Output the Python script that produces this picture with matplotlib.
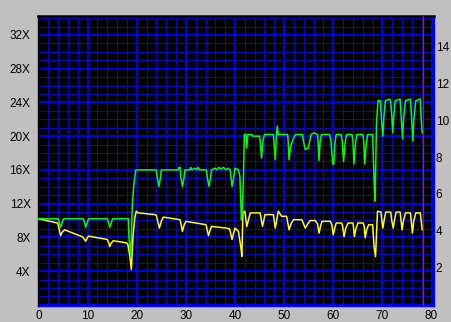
import matplotlib
matplotlib.use("Agg")
import matplotlib.pyplot as plt
from matplotlib.ticker import MultipleLocator, FuncFormatter

plt.rcParams['font.family'] = ['Liberation Sans', 'DejaVu Sans']

# speed trace (green)
green_x = [0, 4.0, 4.3, 4.5, 4.8, 5.1, 9.1, 9.4, 9.6, 9.9, 10.2, 14.0, 14.3, 14.5, 14.8, 15.1,
           18.3, 18.4, 18.8, 19.1, 19.4, 19.8, 24.0, 24.2, 24.5, 24.8, 25.0, 28.4, 28.6, 28.8,
           29.0, 29.3, 29.6, 29.8, 30.8, 31.0, 31.2, 31.9, 32.2, 32.5, 32.8, 34.2, 34.4, 34.7,
           35.0, 35.2, 36.0, 36.3, 36.7, 37.2, 37.6, 38.2, 38.6, 39.0, 39.2, 39.4, 39.7, 40.0,
           40.7, 41.0, 41.3, 41.5, 41.7, 41.9, 42.2, 42.4, 42.6, 43.4, 43.6, 45.0, 45.1, 45.4,
           45.7, 46.0, 47.8, 47.9, 48.2, 48.4, 48.6, 48.8, 50.7, 50.8, 51.0, 51.3, 51.8, 52.3,
           53.7, 54.0, 54.3, 54.9, 55.5, 56.1, 56.8, 56.9, 57.1, 57.3, 57.6, 59.2, 59.5, 59.9,
           60.1, 60.3, 60.6, 61.6, 61.8, 62.1, 62.4, 62.7, 63.8, 64.0, 64.2, 64.5, 64.8, 66.0,
           66.2, 66.4, 66.7, 67.0, 68.0, 68.1, 68.3, 68.5, 68.8, 69.1, 69.6, 69.8, 70.1, 70.3,
           70.6, 71.5, 71.7, 71.9, 72.1, 72.3, 72.6, 73.6, 73.8, 74.1, 74.3, 74.7, 75.7, 75.9,
           76.2, 76.4, 76.8, 77.7, 77.9, 78.1]
green_y = [10.2, 10.2, 9.7, 9.2, 9.7, 10.2, 10.2, 9.7, 9.2, 9.7, 10.2, 10.2, 9.7, 9.2, 9.7, 10.2,
           10.2, 8.1, 5.8, 11.9, 14.2, 16.0, 16.0, 15.0, 14.05, 15.0, 16.0, 16.0, 16.3, 16.3,
           15.0, 14.05, 15.0, 16.0, 16.0, 16.3, 16.0, 16.2, 16.0, 16.3, 16.0, 16.0, 15.0, 14.05,
           15.0, 16.0, 16.2, 16.0, 16.3, 16.1, 16.3, 16.0, 16.2, 16.0, 15.0, 14.05, 15.0, 16.2,
           16.0, 15.2, 10.1, 11.5, 14.8, 20.2, 20.2, 18.6, 20.2, 20.2, 20.0, 20.0, 19.6, 17.4,
           19.5, 20.2, 20.2, 19.5, 17.2, 19.8, 21.2, 20.2, 20.2, 19.6, 17.2, 18.7, 19.6, 20.2,
           20.2, 19.2, 18.4, 18.6, 20.2, 20.4, 20.2, 19.4, 17.1, 19.2, 20.2, 20.2, 19.6, 16.7,
           16.7, 19.0, 20.2, 20.2, 19.5, 17.0, 19.2, 20.2, 20.2, 19.5, 16.7, 19.0, 20.2, 20.2,
           19.4, 16.7, 19.0, 20.2, 20.2, 18.5, 15.0, 12.3, 21.5, 24.2, 24.2, 22.0, 20.0, 22.3,
           24.2, 24.4, 24.0, 22.5, 20.4, 22.3, 24.2, 24.4, 22.5, 19.7, 22.0, 24.2, 24.4, 22.5,
           19.4, 22.0, 24.2, 24.4, 22.0, 20.4]

# second trace (yellow)
yellow_x = [0, 3.9, 4.2, 4.5, 4.8, 5.3, 9.0, 9.3, 9.6, 9.9, 10.2, 14.0, 14.3, 14.5, 14.8, 15.2,
            17.9, 18.2, 18.6, 18.9, 19.25, 19.6, 19.9, 20.3, 23.7, 24.0, 24.6, 25.0, 25.4, 28.8,
            29.0, 29.3, 29.6, 30.0, 34.1, 34.3, 34.6, 34.9, 35.2, 38.3, 38.9, 39.4, 39.7, 40.0,
            40.7, 41.2, 41.4, 41.6, 42.0, 42.4, 43.1, 45.1, 45.6, 46.1, 47.8, 48.2, 48.8, 49.5,
            50.5, 51.0, 51.4, 51.9, 53.6, 54.3, 54.8, 55.3, 56.3, 56.8, 57.1, 57.4, 57.7, 59.4,
            59.7, 60.0, 60.3, 60.6, 61.7, 61.9, 62.2, 62.5, 63.0, 64.0, 64.1, 64.3, 64.6, 65.0,
            66.1, 66.3, 66.5, 66.8, 67.2, 68.0, 68.3, 68.6, 69.0, 69.7, 69.9, 70.1, 70.4, 70.7,
            71.7, 71.9, 72.2, 72.5, 72.8, 73.6, 73.8, 74.0, 74.3, 74.7, 75.7, 75.9, 76.1, 76.4,
            76.8, 77.7, 77.9, 78.1]
yellow_y = [10.2, 9.7, 9.0, 8.2, 8.6, 8.9, 8.05, 7.8, 7.55, 7.9, 8.15, 7.75, 7.4, 6.9, 7.3, 7.6,
            7.35, 7.15, 5.75, 4.2, 8.15, 10.3, 11.1, 10.9, 10.7, 10.6, 9.1, 9.9, 10.4, 10.1,
            9.6, 8.7, 9.4, 9.9, 9.5, 9.0, 8.2, 8.8, 9.3, 9.1, 9.0, 7.75, 8.5, 9.1,
            8.7, 6.75, 5.75, 10.9, 11.1, 9.3, 10.9, 10.9, 9.3, 10.7, 10.7, 9.1, 11.1, 10.5,
            10.5, 8.9, 9.6, 10.1, 10.1, 9.1, 9.6, 10.0, 10.0, 9.6, 8.5, 9.3, 9.9, 9.9,
            9.5, 8.3, 9.1, 9.7, 9.7, 9.3, 8.1, 9.0, 9.7, 9.7, 9.3, 8.1, 9.0, 9.7,
            9.7, 9.3, 7.95, 8.9, 9.5, 9.5, 6.95, 5.7, 11.1, 11.0, 10.0, 9.1, 10.2, 11.0,
            11.0, 10.0, 9.1, 10.2, 11.0, 11.0, 10.0, 8.9, 10.0, 10.9, 10.9, 9.8, 8.5, 10.0,
            10.9, 10.9, 9.9, 8.9]

end_marker = 78.2

fig = plt.figure(figsize=(4.51, 3.22), dpi=100, facecolor='#c0c0c0')
ax = fig.add_axes([37.5 / 451, 16.5 / 322, 396 / 451, 289.5 / 322])
ax.set_facecolor('black')

ax.set_xlim(-0.2, 80.4)
ax.set_ylim(-0.08, 34.25)

ax.xaxis.set_major_locator(MultipleLocator(10))
ax.xaxis.set_minor_locator(MultipleLocator(2))
ax.yaxis.set_major_locator(MultipleLocator(4))
ax.yaxis.set_minor_locator(MultipleLocator(1))
ax.yaxis.set_major_formatter(FuncFormatter(lambda v, p: '' if v <= 0 else '%dX' % v))

ax.grid(which='minor', color='#0808b8', linewidth=0.75, zorder=0)
ax.grid(which='major', color='#0000ff', linewidth=1.3, zorder=0)
ax.set_axisbelow(True)

ax.plot(yellow_x, yellow_y, color='#ffff00', linewidth=1.1, zorder=3)
ax.plot(green_x, green_y, color='#00ff00', linewidth=1.1, zorder=4)
ax.axvline(end_marker, color='#ff0000', linewidth=0.9, zorder=5)

ax.tick_params(which='both', length=0, labelsize=8.5, colors='black')
ax.tick_params(axis='y', pad=5)
ax.tick_params(axis='x', pad=3)

for side in ['left', 'top']:
    ax.spines[side].set_color('black')
ax.spines['top'].set_linewidth(1.8)
ax.spines['left'].set_linewidth(1.0)
for side in ['right', 'bottom']:
    ax.spines[side].set_color('#0000ff')
    ax.spines[side].set_linewidth(1.0)

ax2 = ax.twinx()
ax2.set_ylim(-0.06, 15.66)
ax2.yaxis.set_major_locator(MultipleLocator(2))
ax2.yaxis.set_major_formatter(FuncFormatter(lambda v, p: '' if v <= 0 else '%d' % v))
ax2.tick_params(length=0, labelsize=8.5, pad=1.5, colors='black')
for s in ax2.spines.values():
    s.set_visible(False)

fig.savefig('out.png', dpi=100, facecolor=fig.get_facecolor())
